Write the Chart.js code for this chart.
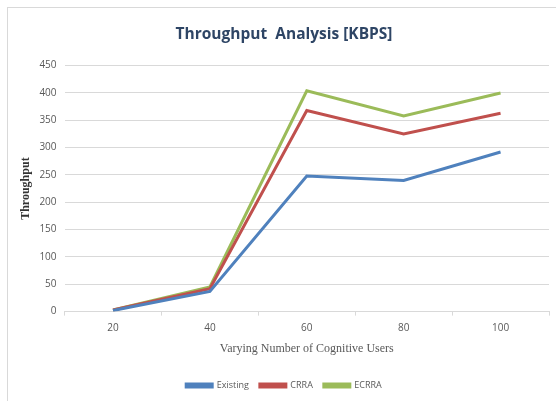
<!DOCTYPE html>
<html>
<head>
<meta charset="utf-8">
<script src="https://cdn.jsdelivr.net/npm/chart.js@4/dist/chart.umd.min.js"></script>
<style>
html,body{margin:0;padding:0;background:#fff;}
#wrap{position:absolute;left:7px;top:7px;width:560px;height:400px;border-left:1px solid #d9d9d9;border-top:1px solid #d9d9d9;}
#c{position:absolute;left:0;top:0;}
</style>
</head>
<body>
<div id="wrap"><canvas id="c" width="549" height="394"></canvas></div>
<script>
const categories = ['20','40','60','80','100'];
const existing = [2, 37, 248, 240, 292];
const crra = [3, 42, 368, 325, 363];
const ecrra = [3, 45, 404, 358, 400];
const yTicks = [0, 50, 100, 150, 200, 250, 300, 350, 400, 450];

const tickFont = {family: 'Open Sans', size: 10};
new Chart(document.getElementById('c'), {
  type: 'line',
  data: {
    labels: categories,
    datasets: [
      {label: 'Existing', data: existing, borderColor: '#4F81BD', backgroundColor: '#4F81BD', borderWidth: 3, pointRadius: 0, tension: 0},
      {label: 'CRRA', data: crra, borderColor: '#C0504D', backgroundColor: '#C0504D', borderWidth: 3, pointRadius: 0, tension: 0},
      {label: 'ECRRA', data: ecrra, borderColor: '#9BBB59', backgroundColor: '#9BBB59', borderWidth: 3, pointRadius: 0, tension: 0}
    ]
  },
  options: {
    responsive: false,
    animation: false,
    layout: {padding: {left: 11, right: 8, top: 0, bottom: 2}},
    plugins: {
      title: {display: true, text: 'Throughput  Analysis [KBPS]', color: '#2E4565', font: {family: 'Open Sans', size: 15.5, weight: 'bold'}, padding: {top: 17, bottom: 22}},
      legend: {position: 'bottom', labels: {color: '#595959', font: {family: 'Open Sans', size: 9}, boxWidth: 26, boxHeight: 3, padding: 11}},
      tooltip: {enabled: false}
    },
    scales: {
      x: {
        offset: true,
        grid: {offset: true, drawOnChartArea: false, color: '#d9d9d9', tickLength: 4},
        border: {color: '#d9d9d9'},
        ticks: {color: '#595959', font: tickFont, padding: 7},
        title: {display: true, text: 'Varying Number of Cognitive Users', color: '#595959', font: {family: 'Liberation Serif', size: 12}, padding: {top: 0, bottom: 14}}
      },
      y: {
        min: 0, max: 450,
        afterBuildTicks: (s) => { s.ticks = yTicks.map(v => ({value: v})); },
        grid: {color: '#d9d9d9', drawTicks: true, tickLength: 6, tickColor: '#fff'},
        border: {display: false},
        ticks: {color: '#595959', font: tickFont, padding: 2},
        title: {display: true, text: 'Throughput', color: '#333333', font: {family: 'Liberation Serif', size: 12, weight: 'bold'}, padding: {top: 0, bottom: 4}}
      }
    }
  }
});
</script>
</body>
</html>
